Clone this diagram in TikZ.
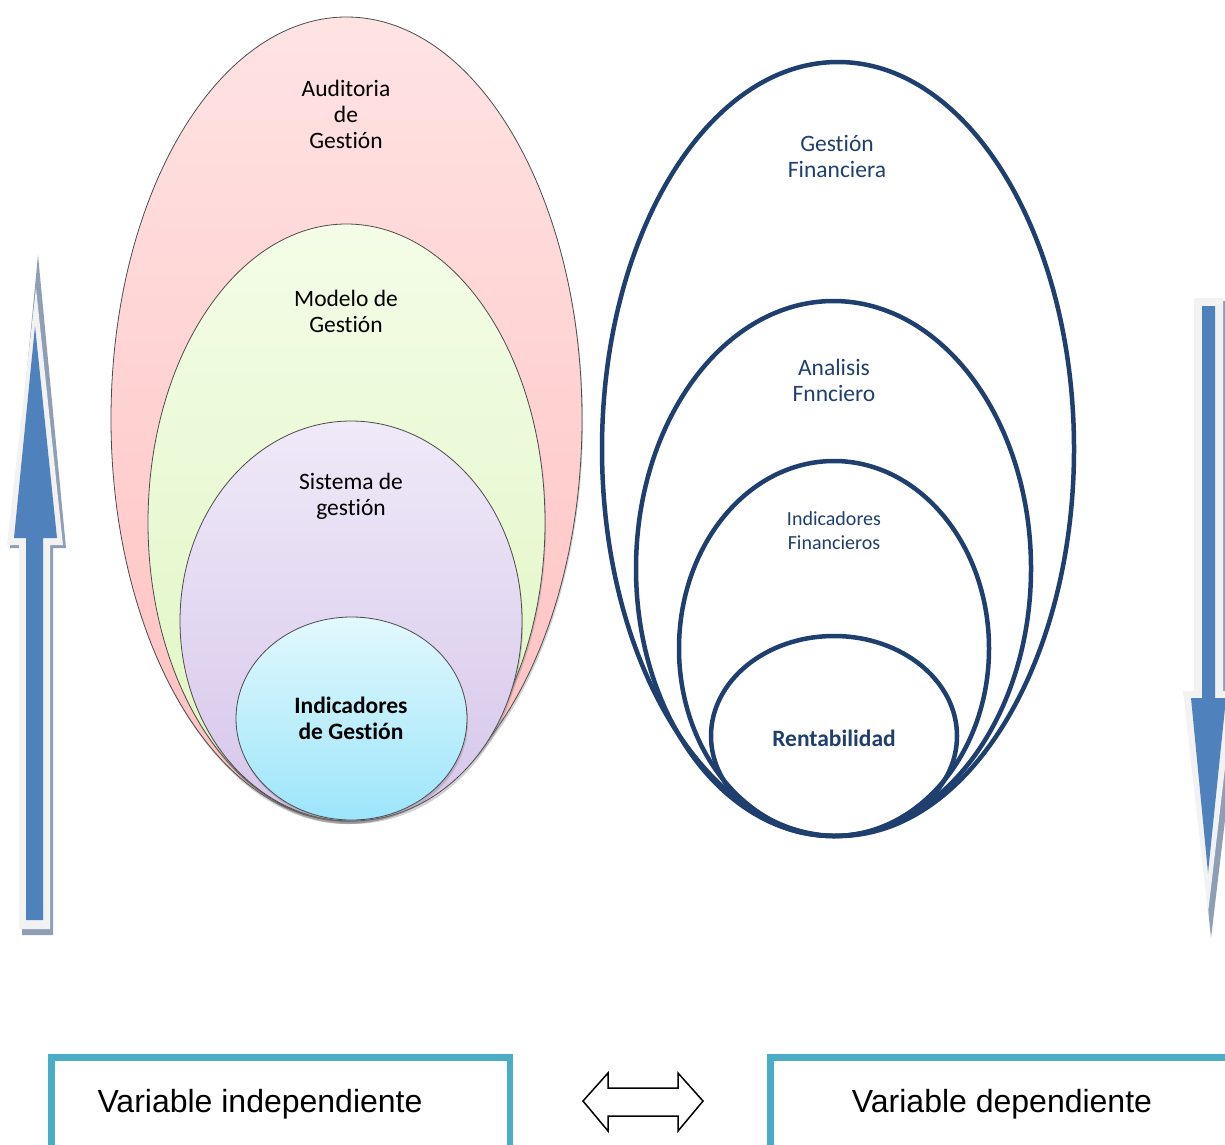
\documentclass[tikz,border=0pt]{standalone}
\usepackage{fontspec}
\setmainfont{Carlito}[Ligatures=NoCommon]
\newfontfamily\arialfont{Liberation Sans}
\usetikzlibrary{shapes.geometric,shadows}
\definecolor{azulosc}{HTML}{1F3F6F}
\definecolor{azulflecha}{HTML}{4F81BD}
\definecolor{bordeflecha}{HTML}{F2F2F2}
\definecolor{sombraflecha}{HTML}{8E9EB4}
\definecolor{turquesa}{HTML}{4BACC6}
\definecolor{rosaA}{HTML}{FFE3E3}
\definecolor{rosaB}{HTML}{FFBFBF}
\definecolor{verdeA}{HTML}{F4FCE7}
\definecolor{verdeB}{HTML}{DEF6C0}
\definecolor{lilaA}{HTML}{EFE9F8}
\definecolor{lilaB}{HTML}{D6C6EA}
\definecolor{celesteA}{HTML}{E2F8FD}
\definecolor{celesteB}{HTML}{9CE5FA}
\def\tam#1#2{\fontsize{#1}{#2}\selectfont}
\tikzset{
	capa/.style={ellipse, draw=black!70, line width=0.8pt, inner sep=0pt,
		drop shadow={shadow xshift=1pt, shadow yshift=-3pt, opacity=0.35}},
	anillo/.style={ellipse, draw=azulosc, line width=4.5pt, inner sep=0pt},
	rotulo/.style={align=center, font=\tam{23.5}{26}},
	caja/.style={draw=turquesa, line width=6.5pt},
}

\begin{document}
\begin{tikzpicture}[x=1pt, y=-1pt]
		%%%%% START %%%%%
		\useasboundingbox (0, 0) rectangle (1225, 1144);
		\fill[white] (0, 0) rectangle (1225, 1144);
		\clip (0, 0) rectangle (1225, 1144);
		
		% flecha izquierda
		\fill[sombraflecha] (38, 255) -- (66, 548) -- (53, 548) -- (53, 935) -- (22, 935) -- (22, 548) -- (10, 548) -- cycle;
		\fill[bordeflecha] (36, 288) -- (63, 545) -- (50, 545) -- (50, 929) -- (19, 929) -- (19, 545) -- (7, 545) -- cycle;
		\fill[azulflecha] (35, 326) -- (57, 538) -- (43, 538) -- (43, 920) -- (26, 920) -- (26, 538) -- (14, 538) -- cycle;
		
		% flecha derecha
		\fill[sombraflecha] (1198, 301) -- (1227, 301) -- (1227, 694) -- (1240, 694) -- (1211, 938) -- (1186, 694) -- (1198, 694) -- cycle;
		\fill[bordeflecha] (1194, 298) -- (1223, 298) -- (1223, 691) -- (1234, 691) -- (1208, 913) -- (1183, 691) -- (1194, 691) -- cycle;
		\fill[azulflecha] (1202, 306) -- (1215, 306) -- (1215, 698) -- (1226, 698) -- (1208, 873) -- (1191, 698) -- (1202, 698) -- cycle;
		
		% elipses de gestion
		\node[capa, top color=rosaA, bottom color=rosaB, minimum width=471, minimum height=804] (auditoria) at (346.5, 419) {};
		\node[capa, top color=verdeA, bottom color=verdeB, minimum width=397, minimum height=597] (modelo) at (346.5, 522.5) {};
		\node[capa, top color=lilaA, bottom color=lilaB, minimum width=342, minimum height=400] (sistema) at (351, 621) {};
		\node[capa, top color=celesteA, bottom color=celesteB, minimum width=231, minimum height=203] (indgestion) at (351.5, 718.5) {};
		
		\node[rotulo] (t-auditoria) at (346, 114) {Auditoria\\de\\Gestión};
		\node[rotulo] (t-modelo) at (346, 311) {Modelo de\\Gestión};
		\node[rotulo] (t-sistema) at (351, 496) {Sistema de\\gestión};
		\node[rotulo, font=\tam{23.5}{26}\bfseries] (t-indgestion) at (351, 718) {Indicadores\\de Gestión};
		
		% elipses financieras
		\node[anillo, minimum width=472, minimum height=774] (gesfin) at (838, 449) {};
		\node[anillo, minimum width=395, minimum height=535] (analisis) at (833.5, 568.5) {};
		\node[anillo, minimum width=310, minimum height=375] (indfin) at (834, 648.5) {};
		\node[anillo, minimum width=246, minimum height=200] (rentab) at (834, 736) {};
		
		\node[rotulo, text=azulosc] (t-gesfin) at (837, 156) {Gestión\\Financiera};
		\node[rotulo, text=azulosc] (t-analisis) at (834, 380) {Analisis\\Fnnciero};
		\node[rotulo, text=azulosc, font=\tam{20}{24}] (t-indfin) at (834, 531) {Indicadores\\Financieros};
		\node[rotulo, text=azulosc, font=\tam{23.5}{26}\bfseries] (t-rentab) at (834, 738) {Rentabilidad};
		
		% variables
		\draw[caja] (51.5, 1057.5) rectangle (510, 1190);
		\draw[caja] (770.5, 1057.5) rectangle (1260, 1190);
		\node[font=\arialfont\fontsize{32}{36}\selectfont] (indep) at (260, 1104) {Variable independiente};
		\node[font=\arialfont\fontsize{32}{36}\selectfont] (dep) at (1002, 1104) {Variable dependiente};
		
		\draw[line width=1.5pt, line join=miter] (583, 1101) -- (608, 1073) -- (608, 1088) -- (678, 1088) -- (678, 1073) -- (703, 1101) -- (678, 1131) -- (678, 1116) -- (608, 1116) -- (608, 1131) -- cycle;
		
		%%%%% END %%%%%
\end{tikzpicture}
\end{document}
